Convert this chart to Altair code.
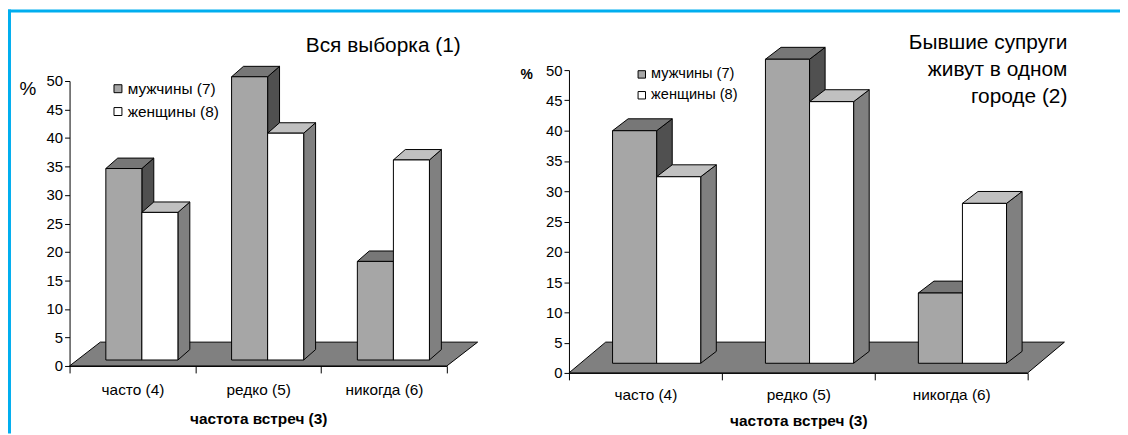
import altair as alt
import pandas as pd

# ---------------- data ----------------
categories = ["часто (4)", "редко (5)", "никогда (6)"]
series = ["мужчины (7)", "женщины (8)"]
men_all = [33.6, 49.7, 17.3]
women_all = [25.9, 39.8, 35.1]
men_city = [38.4, 50.2, 11.6]
women_city = [30.8, 43.2, 26.4]
y_ticks = [0, 5, 10, 15, 20, 25, 30, 35, 40, 45, 50]
x_title = "частота встреч (3)"
title_all = ["Вся выборка (1)"]
title_city = ["Бывшие супруги", "живут в одном", "городе (2)"]

# ---------------- style ----------------
FONT = "Liberation Sans"
FRAME = "#00AEEF"
FRONT = ["#A6A6A6", "#FFFFFF"]
TOP = ["#777777", "#C0C0C0"]
SIDE = ["#505050", "#808080"]
FLOOR = "#808080"


def panel(men, women, g):
    W = g["w"]
    y0, y50 = g["y0"], g["y50"]
    ux = W / 3.0
    uy = (y0 - y50) / 50.0
    fdx, fdy = g["floor"][0] / ux, g["floor"][1] / uy
    bx, by = g["shift"][0] / ux, g["shift"][1] / uy
    ddx, ddy = g["depth"][0] / ux, g["depth"][1] / uy
    bw = g["bar_w"] / ux

    xs = alt.Scale(domain=[0, 3], range=[0, W], nice=False, zero=False)
    ys = alt.Scale(domain=[0, 50], range=[y0, y50], nice=False, zero=False)

    label_expr = " : ".join(
        [f"datum.value == {i + 0.5} ? '{c}'" for i, c in enumerate(categories)]
    ) + " : ''"
    y_axis = alt.Axis(
        values=y_ticks, title=None, grid=False, tickSize=5, labelPadding=2,
        labelFontSize=15, labelColor="black", domainColor="black", tickColor="black",
    )
    x_axis = alt.Axis(
        values=[0, 0.5, 1, 1.5, 2, 2.5, 3], labelExpr=label_expr, grid=False,
        tickSize=7, tickOpacity={"condition": {"test": "datum.value % 1 === 0", "value": 1}, "value": 0},
        labelOverlap=False, labelFlush=False, labelPadding=g["label_pad"], labelFontSize=15.5,
        labelColor="black", domainColor="black", tickColor="black",
        title=x_title, titleFontSize=15.5, titleFontWeight="bold", titleColor="black",
        titlePadding=g["title_pad"],
    )

    # floor
    floor_df = pd.DataFrame({"y": [0.0, fdy], "x": [0.0, fdx], "x2": [3.0, 3.0 + fdx]})
    floor = alt.Chart(floor_df).mark_area(
        orient="horizontal", fill=FLOOR, stroke="black", strokeWidth=1
    ).encode(
        y=alt.Y("y:Q", scale=ys, axis=y_axis),
        x=alt.X("x:Q", scale=xs, axis=x_axis),
        x2="x2:Q",
    )

    layers = [floor]
    for s, vals in enumerate([men, women]):
        fronts, sides, tops = [], [], []
        for i, v in enumerate(vals):
            xl = i + 0.5 - bw + s * bw + bx
            xr = xl + bw
            base = by
            top = by + v
            bid = f"{s}-{i}"
            fronts.append({"series": series[s], "cat": categories[i], "x": xl, "x2": xr, "y": base, "y2": top})
            sides.append({"bid": bid, "x": xr, "y": base, "y2": top})
            sides.append({"bid": bid, "x": xr + ddx, "y": base + ddy, "y2": top + ddy})
            tops.append({"bid": bid, "y": top, "x": xl, "x2": xr})
            tops.append({"bid": bid, "y": top + ddy, "x": xl + ddx, "x2": xr + ddx})
        side_l = alt.Chart(pd.DataFrame(sides)).mark_area(
            fill=SIDE[s], stroke="black", strokeWidth=1
        ).encode(
            x=alt.X("x:Q", scale=xs, axis=x_axis),
            y=alt.Y("y:Q", scale=ys, axis=y_axis),
            y2="y2:Q",
            detail="bid:N",
        )
        top_l = alt.Chart(pd.DataFrame(tops)).mark_area(
            orient="horizontal", fill=TOP[s], stroke="black", strokeWidth=1
        ).encode(
            y=alt.Y("y:Q", scale=ys, axis=y_axis),
            x=alt.X("x:Q", scale=xs, axis=x_axis),
            x2="x2:Q",
            detail="bid:N",
        )
        front_l = alt.Chart(pd.DataFrame(fronts)).mark_rect(
            stroke="black", strokeWidth=1, opacity=1
        ).encode(
            x=alt.X("x:Q", scale=xs, axis=x_axis),
            x2="x2:Q",
            y=alt.Y("y:Q", scale=ys, axis=y_axis),
            y2="y2:Q",
            color=alt.Color("series:N", scale=alt.Scale(domain=series, range=FRONT),
                            legend=alt.Legend(
                                orient="none", legendX=g["leg"][0], legendY=g["leg"][1],
                                title=None, symbolType="square", symbolSize=g["sym"],
                                symbolStrokeColor="black", symbolStrokeWidth=1,
                                labelFontSize=g["leg_fs"], labelFont=FONT,
                                labelColor="black", rowPadding=g["row_pad"], labelOffset=2,
                                padding=0, symbolOpacity=1,
                            )),
        )
        layers += [side_l, top_l, front_l]

    # titles / labels (decoration text)
    tl = g["title_pos"]
    for k, line in enumerate(g["title"]):
        layers.append(alt.Chart(pd.DataFrame({"t": [line]})).mark_text(
            align="right", baseline="alphabetic", fontSize=21, font=FONT, color="black"
        ).encode(x=alt.value(tl[0]), y=alt.value(tl[1] + k * 27), text="t:N"))
    p = g["pct"]
    layers.append(alt.Chart(pd.DataFrame({"t": ["%"]})).mark_text(
        align="center", baseline="middle", fontSize=p[2], fontWeight=p[3], font=FONT, color="black"
    ).encode(x=alt.value(p[0]), y=alt.value(p[1]), text="t:N"))

    return layers


left_g = dict(w=380, h=298, y0=298, y50=11, floor=(31, 24), shift=(9.5, 6), depth=(12, 10.5),
              bar_w=36.3, label_pad=10, title_pad=13, leg=(41, 11), sym=64, leg_fs=15.5, row_pad=6,
              title=title_all, title_pos=(394, -18), pct=(-42, 19, 19, "normal"))
right_g = dict(w=462, h=305, y0=305, y50=0, floor=(37, 31), shift=(11.3, 9.7), depth=(15.7, 12),
               bar_w=44.4, label_pad=8, title_pad=10, leg=(66, -3), sym=56, leg_fs=14.7, row_pad=5,
               title=title_city, title_pos=(502, -21), pct=(-42.7, 5, 14, "bold"))

left_layers = panel(men_all, women_all, left_g)
# frame (decoration) drawn from the left panel
frame_top = alt.Chart(pd.DataFrame({"a": [0]})).mark_rect(fill=FRAME, strokeWidth=0).encode(
    x=alt.value(-62), x2=alt.value(1058), y=alt.value(-61), y2=alt.value(-58))
frame_left = alt.Chart(pd.DataFrame({"a": [0]})).mark_rect(fill=FRAME, strokeWidth=0).encode(
    x=alt.value(-62), x2=alt.value(-59), y=alt.value(-61), y2=alt.value(366))
left = alt.layer(*left_layers, frame_top, frame_left).properties(width=left_g["w"], height=left_g["h"])
right = alt.layer(*panel(men_city, women_city, right_g)).properties(width=right_g["w"], height=right_g["h"])

chart = alt.hconcat(left, right, spacing=123, bounds="flush").resolve_scale(
    color="independent", x="independent", y="independent"
).configure(
    font=FONT, padding=0, background="white"
).configure_view(stroke=None).configure_axis(labelFont=FONT, titleFont=FONT)

chart.save("out.html", embed_options={"renderer": "svg", "actions": False})
